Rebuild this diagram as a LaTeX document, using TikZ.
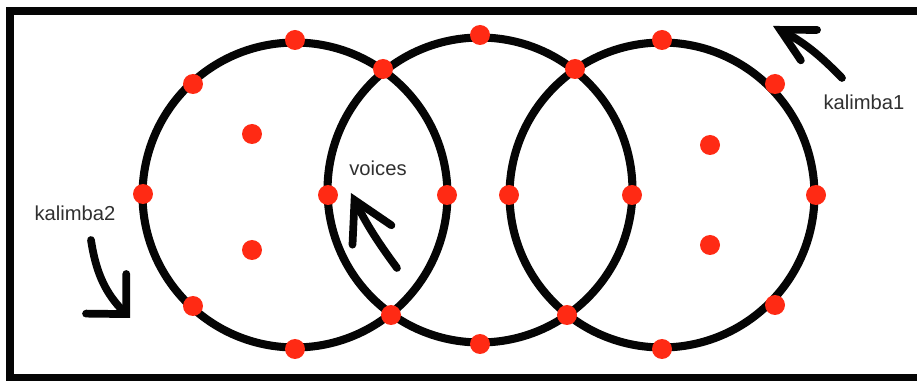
\documentclass[tikz,border=0pt]{standalone}
\usepackage{fontspec}
\setmainfont{Liberation Sans}
\usepackage{tikz}
\usetikzlibrary{arrows.meta, positioning}
\definecolor{dotred}{HTML}{FF2A14}
\definecolor{inkblack}{HTML}{050505}
\definecolor{labelgray}{HTML}{303030}

\begin{document}
\begin{tikzpicture}[x=0.02cm, y=-0.02cm,
  ring/.style={circle, draw=inkblack, line width=4.6pt, minimum size=6.1cm,
               inner sep=0pt},
  pin/.style={circle, fill=dotred, minimum size=0.4cm, inner sep=0pt},
  lbl/.style={font=\fontsize{11.5}{13}\selectfont, text=labelgray, inner sep=0pt},
  sweep/.style={line width=4.4pt, line cap=round, line join=round, draw=inkblack},
]
  \useasboundingbox (0,0) rectangle (917,381);
  \draw[line width=4.6pt, inkblack] (10,11) rectangle (923,378);

  %% Three rings
  \node[ring] (left)  at (295,195) {};
  \node[ring] (mid)   at (480,190) {};
  \node[ring] (right) at (662,195) {};

  %% Dots -- left ring
  \node[pin] (l1) at (295,40)  {};
  \node[pin] (l2) at (193,84)  {};
  \node[pin] (l3) at (143,194) {};
  \node[pin] (l4) at (193,306) {};
  \node[pin] (l5) at (295,349) {};
  \node[pin] (l6) at (447,195) {};
  \node[pin] (li1) at (252,134) {};
  \node[pin] (li2) at (252,250) {};

  %% Dots -- middle ring
  \node[pin] (m1) at (480,35)  {};
  \node[pin] (m2) at (383,69)  {};
  \node[pin] (m3) at (575,69)  {};
  \node[pin] (m4) at (328,195) {};
  \node[pin] (m5) at (632,195) {};
  \node[pin] (m6) at (391,315) {};
  \node[pin] (m7) at (567,315) {};
  \node[pin] (m8) at (480,344) {};

  %% Dots -- right ring
  \node[pin] (r1) at (662,40)  {};
  \node[pin] (r2) at (775,84)  {};
  \node[pin] (r3) at (816,195) {};
  \node[pin] (r4) at (775,305) {};
  \node[pin] (r5) at (662,349) {};
  \node[pin] (r6) at (509,195) {};
  \node[pin] (ri1) at (710,145) {};
  \node[pin] (ri2) at (710,245) {};

  %% Labels and arrows
  \node[lbl] (k2) at (75,213)  {kalimba2};
  \node[lbl] (vc) at (378,168) {voices};
  \node[lbl] (k1) at (864,102) {kalimba1};

  \coordinate (k2tail) at (91,240);
  \coordinate (k2tip)  at (130,318);
  \coordinate (vctail) at (397,268);
  \coordinate (vctip)  at (351,193);
  \coordinate (k1tail) at (842,78);
  \coordinate (k1tip)  at (773,26);

  \draw[sweep, -{Straight Barb[length=0.57cm, width=1.13cm, line cap=round]}]
    (k2tail) to[bend right=18] (k2tip);
  \draw[sweep, -{Straight Barb[length=0.78cm, width=0.87cm, line cap=round]}]
    (vctail) to[bend left=5] (vctip);
  \draw[sweep, -{Straight Barb[length=0.65cm, width=0.69cm, line cap=round]}]
    (k1tail) to[bend right=9] (k1tip);

\end{tikzpicture}
\end{document}
